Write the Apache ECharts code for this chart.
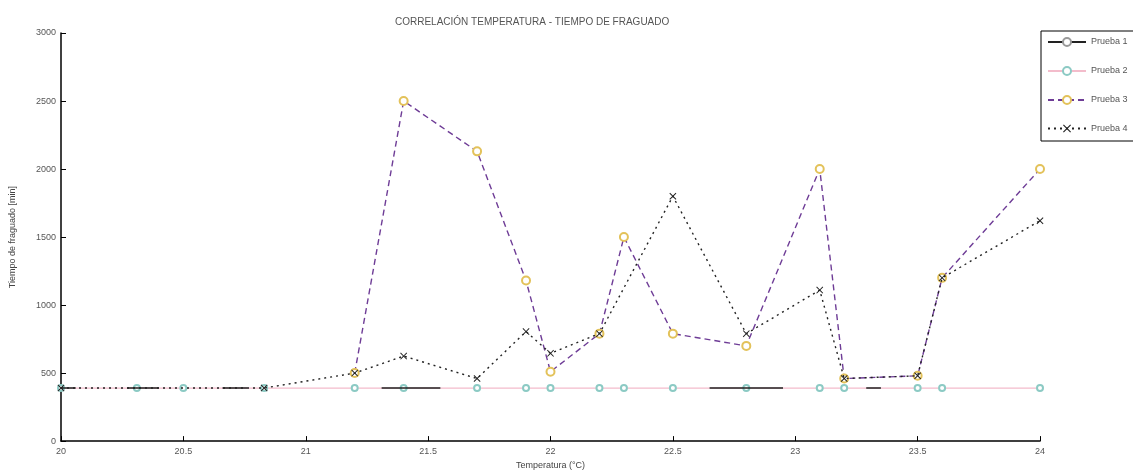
<!DOCTYPE html>
<html>
<head>
<meta charset="utf-8">
<script src="https://cdn.jsdelivr.net/npm/echarts@6/dist/echarts.min.js"></script>
<style>
  html, body { margin: 0; padding: 0; background: #fff; }
  #main { width: 1133px; height: 475px; }
</style>
</head>
<body>
<div id="main"></div>
<script>
// ejes
var xTicks = [20, 20.5, 21, 21.5, 22, 22.5, 23, 23.5, 24];
var yTicks = [0, 500, 1000, 1500, 2000, 2500, 3000];

// Prueba 1 - tramos oscuros sobre la base (null = hueco)
var temp1 = [20.0, 20.06, 20.07, 20.27, 20.31, 20.40, 20.41, 20.66, 20.76, 20.77, 21.31, 21.40, 21.55, 21.56, 22.65, 22.80, 22.95, 22.96, 23.29, 23.35];
var val1  = [390, 390, null, 390, 390, 390, null, 390, 390, null, 390, 390, 390, null, 390, 390, 390, null, 390, 390];

// Prueba 2 - linea base rosa
var temp2 = [20.0, 20.31, 20.5, 20.83, 21.2, 21.4, 21.7, 21.9, 22.0, 22.2, 22.3, 22.5, 22.8, 23.1, 23.2, 23.5, 23.6, 24.0];
var val2  = [390, 390, 390, 390, 390, 390, 390, 390, 390, 390, 390, 390, 390, 390, 390, 390, 390, 390];

// Prueba 3 - curva morada discontinua
var temp3 = [21.2, 21.4, 21.7, 21.9, 22.0, 22.2, 22.3, 22.5, 22.8, 23.1, 23.2, 23.5, 23.6, 24.0];
var val3  = [500, 2500, 2130, 1180, 510, 790, 1500, 790, 700, 2000, 460, 480, 1200, 2000];

// Prueba 4 - curva negra punteada
var temp4 = [20.0, 20.83, 21.2, 21.4, 21.7, 21.9, 22.0, 22.2, 22.5, 22.8, 23.1, 23.2, 23.5, 23.6, 24.0];
var val4  = [390, 390, 500, 625, 460, 805, 645, 790, 1800, 790, 1110, 460, 480, 1200, 1620];

function pares(t, v) {
  var out = [];
  for (var i = 0; i < t.length; i++) {
    out.push([t[i], v[i] === null ? '-' : v[i]]);
  }
  return out;
}

var fuente = 'Liberation Sans';
var cruz = 'path://M0,1L1,0L5,4L9,0L10,1L6,5L10,9L9,10L5,6L1,10L0,9L4,5Z';

var myChart = echarts.init(document.getElementById('main'));
myChart.setOption({
  animation: false,
  backgroundColor: '#fff',
  textStyle: { fontFamily: fuente },
  title: {
    text: 'CORRELACIÓN TEMPERATURA - TIEMPO DE FRAGUADO',
    left: 390,
    top: 12,
    textStyle: { fontSize: 10, fontWeight: 'normal', color: '#555', fontFamily: fuente }
  },
  grid: { left: 60, right: 93, top: 33, bottom: 29 },
  legend: {
    orient: 'vertical',
    left: 1041,
    top: 31,
    padding: [6, 14, 8, 6],
    itemWidth: 38,
    itemHeight: 10,
    itemGap: 19,
    backgroundColor: '#fff',
    borderColor: '#000',
    borderWidth: 1,
    borderRadius: 0,
    textStyle: { fontSize: 9, color: '#555' },
    data: ['Prueba 1', 'Prueba 2', 'Prueba 3', 'Prueba 4']
  },
  xAxis: {
    type: 'value',
    min: xTicks[0],
    max: xTicks[xTicks.length - 1],
    interval: 0.5,
    name: 'Temperatura (°C)',
    nameLocation: 'middle',
    nameGap: 19,
    nameTextStyle: { fontSize: 9, color: '#444' },
    axisLine: { lineStyle: { color: '#000', width: 1.5 } },
    axisTick: { inside: true, length: 5, lineStyle: { color: '#000' } },
    axisLabel: { fontSize: 9, color: '#555', margin: 6 },
    splitLine: { show: false }
  },
  yAxis: {
    type: 'value',
    min: yTicks[0],
    max: yTicks[yTicks.length - 1],
    interval: 500,
    name: 'Tiempo de fraguado [min]',
    nameLocation: 'middle',
    nameGap: 44,
    nameTextStyle: { fontSize: 9, color: '#444' },
    axisLine: { show: true, lineStyle: { color: '#000', width: 1.5 } },
    axisTick: { show: true, inside: true, length: 5, lineStyle: { color: '#000' } },
    axisLabel: { fontSize: 9, color: '#555', margin: 5, formatter: function (v) { return String(v); } },
    splitLine: { show: false }
  },
  series: [
    {
      name: 'Prueba 2',
      type: 'line',
      data: pares(temp2, val2),
      symbol: 'emptyCircle',
      symbolSize: 6,
      z: 2,
      itemStyle: { color: '#8ccac4', borderWidth: 1 },
      lineStyle: { color: '#f3bccb', width: 1.3 }
    },
    {
      name: 'Prueba 1',
      type: 'line',
      data: pares(temp1, val1),
      connectNulls: false,
      symbol: 'emptyCircle',
      symbolSize: 6,
      showSymbol: false,
      z: 3,
      itemStyle: { color: '#999' },
      lineStyle: { color: '#222', width: 1.6 }
    },
    {
      name: 'Prueba 3',
      type: 'line',
      data: pares(temp3, val3),
      symbol: 'emptyCircle',
      symbolSize: 8,
      z: 4,
      itemStyle: { color: '#e3c25a', borderWidth: 1.2 },
      lineStyle: { color: '#6e3c96', width: 1.4, type: [6, 4] }
    },
    {
      name: 'Prueba 4',
      type: 'line',
      data: pares(temp4, val4),
      symbol: cruz,
      symbolSize: 7,
      z: 5,
      itemStyle: { color: '#222' },
      lineStyle: { color: '#222', width: 1.4, type: [2, 4] }
    }
  ]
});
</script>
</body>
</html>
